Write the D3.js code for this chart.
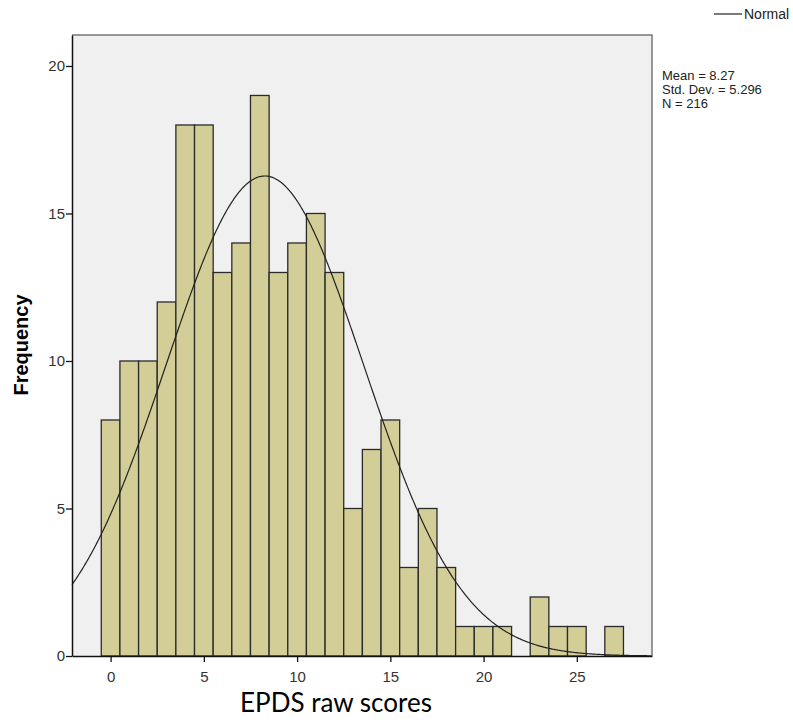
<!DOCTYPE html>
<html>
<head>
<meta charset="utf-8">
<script src="https://cdn.jsdelivr.net/npm/d3@7"></script>
<style>
  body { margin: 0; background: #fff; }
  text { font-family: "Liberation Sans", Arial, sans-serif; }
</style>
</head>
<body>
<div id="chart"></div>
<script>
// EPDS raw score histogram, bins of width 1 centred on each score
var scores = [0,1,2,3,4,5,6,7,8,9,10,11,12,13,14,15,16,17,18,19,20,21,22,23,24,25,26,27];
var counts = [8,10,10,12,18,18,13,14,19,13,14,15,13,5,7,8,3,5,3,1,1,1,0,2,1,1,0,1];
var xTicks = [0,5,10,15,20,25];
var yTicks = [0,5,10,15,20];
var statLines = ["Mean = 8.27", "Std. Dev. = 5.296", "N = 216"];
var mean = 8.27, sd = 5.296, n = 216;

var W = 793, H = 722;
var svg = d3.select("#chart").append("svg").attr("width", W).attr("height", H);

var pLeft = 72, pRight = 652, pTop = 35, pBottom = 656;
var x = d3.scaleLinear().domain([-2.07, 29.03]).range([pLeft, pRight]);
var y = d3.scaleLinear().domain([0, 21.05]).range([pBottom, pTop]);

// plot background
svg.append("rect")
    .attr("x", pLeft).attr("y", pTop)
    .attr("width", pRight - pLeft).attr("height", pBottom - pTop)
    .attr("fill", "#f0f0f0");

var g = svg.append("g");
g.selectAll(".bar")
    .data(scores.filter(function(d, i){ return counts[i] > 0; }))
    .enter().append("rect").attr("class", "bar")
    .attr("x", function(d){ return x(d - 0.5); })
    .attr("width", function(d){ return x(d + 0.5) - x(d - 0.5); })
    .attr("y", function(d){ return y(counts[scores.indexOf(d)]); })
    .attr("height", function(d){ return y(0) - y(counts[scores.indexOf(d)]); })
    .attr("fill", "#d3ce97")
    .attr("stroke", "#2a2a2a")
    .attr("stroke-width", 1.3);

// fitted normal curve from the stats shown in the legend
var curvePts = d3.range(-2.07, 29.04, 0.05).map(function(v){
    var z = (v - mean) / sd;
    return [v, n * Math.exp(-0.5 * z * z) / (sd * Math.sqrt(2 * Math.PI))];
});
svg.append("path")
    .attr("d", d3.line().x(function(d){ return x(d[0]); }).y(function(d){ return y(d[1]); })(curvePts))
    .attr("fill", "none")
    .attr("stroke", "#222")
    .attr("stroke-width", 1.2);

// frame: top/right grey, left/bottom via axes
svg.append("path")
    .attr("d", "M" + pLeft + "," + pTop + "H" + pRight + "V" + pBottom)
    .attr("fill", "none").attr("stroke", "#777").attr("stroke-width", 1.5);

var xAxis = svg.append("g").attr("transform", "translate(0," + pBottom + ")")
    .call(d3.axisBottom(x).tickValues(xTicks).tickSize(6).tickSizeOuter(0));
var yAxis = svg.append("g").attr("transform", "translate(" + pLeft + ",0)")
    .call(d3.axisLeft(y).tickValues(yTicks).tickSize(6).tickSizeOuter(0));

[xAxis, yAxis].forEach(function(a){
    a.select(".domain").attr("stroke", "#111").attr("stroke-width", 1.5);
    a.selectAll(".tick line").attr("stroke", "#111").attr("stroke-width", 1.3);
    a.selectAll(".tick text").attr("fill", "#333").style("font-size", "15px")
        .style("font-family", "'Liberation Sans', Arial, sans-serif");
});
xAxis.selectAll(".tick text").attr("y", 15);
yAxis.selectAll(".tick text").attr("x", -7);

svg.append("text")
    .attr("transform", "translate(28,345) rotate(-90)")
    .attr("text-anchor", "middle")
    .style("font-size", "20px").style("font-weight", "bold")
    .attr("fill", "#000")
    .text("Frequency");

svg.append("text")
    .attr("x", 336).attr("y", 712)
    .attr("text-anchor", "middle")
    .style("font-family", "Lato, 'Open Sans', sans-serif")
    .style("font-size", "26px")
    .attr("fill", "#000")
    .text("EPDS raw scores");

// legend
svg.append("line")
    .attr("x1", 714).attr("x2", 742).attr("y1", 14).attr("y2", 14)
    .attr("stroke", "#222").attr("stroke-width", 1.2);
svg.append("text")
    .attr("x", 744).attr("y", 19)
    .style("font-size", "14px").attr("fill", "#222")
    .text("Normal");

svg.selectAll(".stat").data(statLines).enter().append("text").attr("class", "stat")
    .attr("x", 662).attr("y", function(d, i){ return 80 + i * 14; })
    .style("font-size", "13px").attr("fill", "#222")
    .text(function(d){ return d; });
</script>
</body>
</html>
